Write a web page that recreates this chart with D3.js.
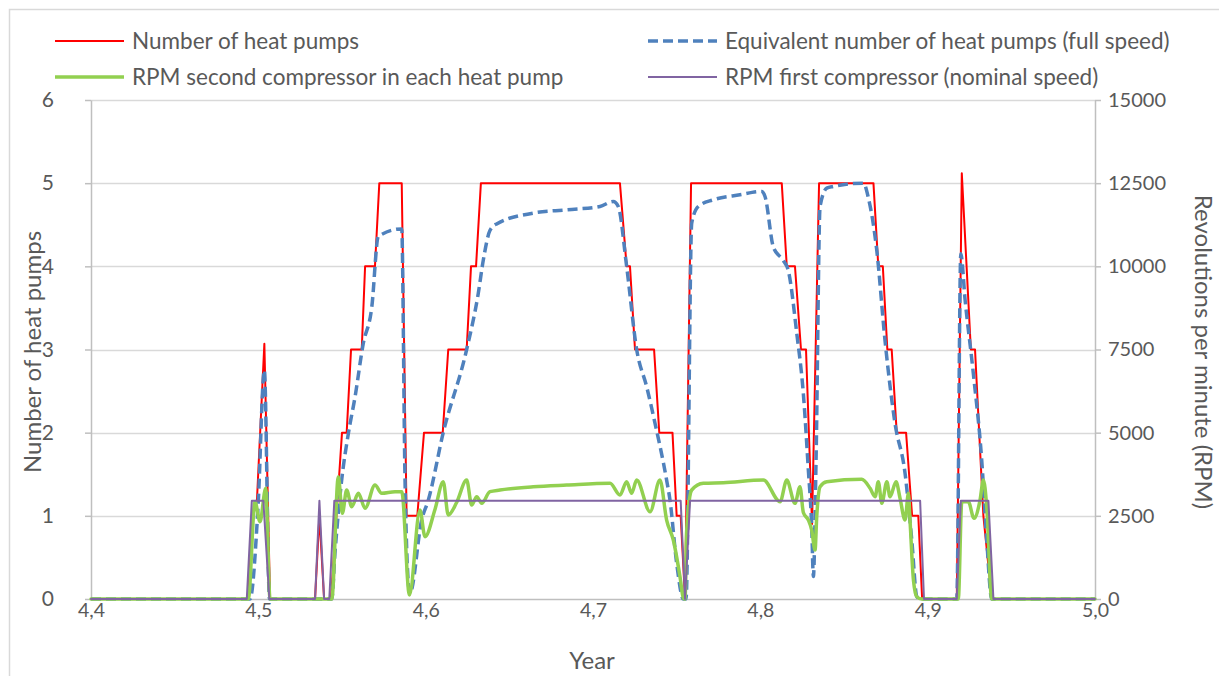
<!DOCTYPE html>
<html>
<head>
<meta charset="utf-8">
<script src="https://cdn.jsdelivr.net/npm/d3@7"></script>
<style>
  html, body { margin: 0; padding: 0; background: #ffffff; }
  svg { display: block; }
  text { font-family: Lato, "Open Sans", sans-serif; fill: #595959; }
</style>
</head>
<body>
<svg id="chart" width="1219" height="676"></svg>
<script>
// ---- Data -------------------------------------------------------------
// Number of heat pumps in operation (left axis)
const pumpsT = [4.4, 4.4938, 4.4968, 4.4992, 4.5036, 4.5070, 4.5339, 4.5365, 4.5393, 4.5434,
  4.5500, 4.5528, 4.5554, 4.5618, 4.5638, 4.5697, 4.5723, 4.5857, 4.5886, 4.5950, 4.5990,
  4.6102, 4.6135, 4.6245, 4.6271, 4.6301, 4.6330, 4.7161, 4.7201, 4.7221, 4.7251, 4.7365,
  4.7396, 4.7475, 4.7500, 4.7524, 4.7550, 4.7586, 4.8128, 4.8158, 4.8207, 4.8243, 4.8273,
  4.8309, 4.8351, 4.8676, 4.8705, 4.8732, 4.8759, 4.8785, 4.8815, 4.8871, 4.8907, 4.8944,
  4.8967, 4.9174, 4.9204, 4.9258, 4.9283, 4.9333, 4.9383, 5.0];
const pumpsN = [0, 0, 1, 1.2, 3.07, 0, 0, 1, 0, 0,
  2, 2, 3, 3, 4, 4, 5, 5, 1, 1, 2,
  2, 3, 3, 4, 4, 5, 5, 4, 4, 3, 3,
  2, 2, 1, 1, 0, 5, 5, 4, 4, 3, 3,
  0.9, 5, 5, 4, 4, 3, 3, 2, 2, 1, 1,
  0, 0, 5.12, 3, 3, 1, 0, 0];

// Equivalent number of heat pumps at full speed (left axis)
const equivT = [4.4, 4.4950, 4.4998, 4.5036, 4.5067, 4.5439, 4.5458, 4.5498, 4.5538, 4.5578,
  4.5626, 4.5678, 4.5717, 4.5857, 4.5876, 4.5896, 4.5906, 4.5976, 4.6016, 4.6105, 4.6245,
  4.6314, 4.6344, 4.6384, 4.6424, 4.6643, 4.6843, 4.7042, 4.7121, 4.7151, 4.7201, 4.7261,
  4.7321, 4.7371, 4.7440, 4.7460, 4.7500, 4.7540, 4.7556, 4.7590, 4.7629, 4.7719, 4.7878,
  4.8008, 4.8028, 4.8078, 4.8137, 4.8167, 4.8218, 4.8257, 4.8287, 4.8307, 4.8317, 4.8333,
  4.8357, 4.8397, 4.8436, 4.8616, 4.8646, 4.8696, 4.8745, 4.8805, 4.8865, 4.8905, 4.8935,
  4.8955, 4.9174, 4.9198, 4.9224, 4.9273, 4.9323, 4.9353, 4.9383, 5.0];
const equivN = [0, 0, 1.1, 2.75, 0, 0, 0.55, 1.43, 1.99, 2.43,
  3.06, 3.51, 4.36, 4.45, 1.5, 0.2, 0.07, 0.95, 1.19, 2.0, 3.0,
  3.67, 4.07, 4.43, 4.51, 4.64, 4.68, 4.72, 4.78, 4.72, 4.0, 3.0,
  2.55, 2.11, 1.43, 1.19, 0.43, 0, 0, 4.52, 4.72, 4.80, 4.86,
  4.90, 4.84, 4.23, 4.07, 3.95, 3.19, 2.47, 1.55, 0.87, 0.27, 1.67,
  4.72, 4.94, 4.96, 5.0, 4.82, 4.19, 3.11, 2.11, 1.51, 0.71, 0.03,
  0, 0, 4.15, 3.59, 2.71, 1.67, 0.71, 0, 0];

// RPM of the second compressor in each heat pump (right axis)
const rpm2T = [4.4, 4.4940, 4.4980, 4.5010, 4.5044, 4.5070, 4.5439, 4.5478, 4.5502, 4.5528,
  4.5558, 4.5598, 4.5638, 4.5697, 4.5737, 4.5817, 4.5857, 4.5903, 4.5966, 4.5996, 4.6056,
  4.6105, 4.6135, 4.6185, 4.6245, 4.6275, 4.6305, 4.6335, 4.6384, 4.6444, 4.6643, 4.6843,
  4.7102, 4.7161, 4.7201, 4.7231, 4.7261, 4.7341, 4.7400, 4.7440, 4.7480, 4.7520, 4.7540,
  4.7550, 4.7560, 4.7590, 4.7659, 4.7779, 4.8018, 4.8118, 4.8158, 4.8207, 4.8237, 4.8257,
  4.8287, 4.8307, 4.8327, 4.8337, 4.8357, 4.8397, 4.8606, 4.8656, 4.8686, 4.8705, 4.8726,
  4.8756, 4.8775, 4.8811, 4.8835, 4.8865, 4.8885, 4.8895, 4.8915, 4.8935, 4.8965, 4.9183,
  4.9204, 4.9243, 4.9277, 4.9313, 4.9333, 4.9353, 4.9383, 5.0];
const rpm2V = [0, 0, 2924, 2323, 3326, 0, 0, 3676, 2575, 3276,
  2775, 3176, 2725, 3426, 3176, 3225, 3225, 120, 2675, 1872, 2700,
  3525, 2524, 2900, 3576, 2825, 3074, 2876, 3225, 3276, 3375, 3426,
  3477, 3125, 3525, 3176, 3576, 2623, 3576, 2374, 1773, 670, 30,
  0, 2073, 3276, 3477, 3496, 3576, 2924, 3576, 2876, 3375, 2600,
  2374, 2073, 1472, 2474, 3375, 3525, 3597, 3326, 3074, 3525, 2876,
  3525, 3074, 3525, 3025, 2374, 3176, 2323, 571, 69, 0, 0,
  2924, 2924, 2425, 2975, 3576, 2775, 0, 0];

// RPM of the first compressor, which runs at nominal speed (right axis)
const rpm1T = [4.4, 4.4931, 4.4961, 4.5030, 4.5066, 4.5339, 4.5365, 4.5393, 4.5424, 4.5454,
  4.7524, 4.7550, 4.7580, 4.8955, 4.8978, 4.9174, 4.9198, 4.9363, 4.9393, 5.0];
const rpm1V = [0, 0, 2950, 2950, 0, 0, 2950, 0, 0, 2950,
  2950, 0, 2950, 2950, 0, 0, 2950, 2950, 0, 0];

const xTicks = [4.4, 4.5, 4.6, 4.7, 4.8, 4.9, 5.0];
const leftTicks = [0, 1, 2, 3, 4, 5, 6];
const rightTicks = [0, 2500, 5000, 7500, 10000, 12500, 15000];

const seriesNames = [
  "Number of heat pumps",
  "Equivalent number of heat pumps (full speed)",
  "RPM second compressor in each heat pump",
  "RPM first compressor (nominal speed)"
];

// ---- Layout -----------------------------------------------------------
const svg = d3.select("#chart");
const plot = { left: 91, right: 1095, top: 100, bottom: 599 };

const x = d3.scaleLinear().domain([4.4, 5.0]).range([plot.left, plot.right]);
const yL = d3.scaleLinear().domain([0, 6]).range([plot.bottom, plot.top]);
const yR = d3.scaleLinear().domain([0, 15000]).range([plot.bottom, plot.top]);

const commaFmt = d => d3.format(".1f")(d).replace(".", ",");

// outer chart frame
svg.append("rect")
  .attr("x", 9.5).attr("y", 9.5)
  .attr("width", 1230).attr("height", 690)
  .attr("fill", "none").attr("stroke", "#d9d9d9").attr("stroke-width", 1.5);

// horizontal gridlines
svg.append("g")
  .selectAll("line")
  .data(leftTicks.filter(d => d > 0))
  .join("line")
  .attr("x1", plot.left).attr("x2", plot.right)
  .attr("y1", d => Math.round(yL(d)) + 0.5).attr("y2", d => Math.round(yL(d)) + 0.5)
  .attr("stroke", "#d9d9d9").attr("stroke-width", 1.5);

// axes
const axisStyle = size => g => {
  g.select(".domain").attr("stroke", "#bfbfbf").attr("stroke-width", 1.5);
  g.selectAll(".tick line").attr("stroke", "#bfbfbf").attr("stroke-width", 1.5);
  g.selectAll(".tick text").attr("fill", "#595959").style("font-size", size)
    .style("font-family", "Lato, 'Open Sans', sans-serif");
};

svg.append("g")
  .attr("transform", `translate(0,${plot.bottom})`)
  .call(d3.axisBottom(x).tickValues(xTicks).tickFormat(commaFmt).tickSize(0).tickPadding(4))
  .call(axisStyle("19.5px"));

svg.append("g")
  .attr("transform", `translate(${plot.left},0)`)
  .call(d3.axisLeft(yL).tickValues(leftTicks).tickFormat(d3.format("d")).tickSizeOuter(0).tickSizeInner(6).tickPadding(31))
  .call(axisStyle("21px"));

svg.append("g")
  .attr("transform", `translate(${plot.right},0)`)
  .call(d3.axisRight(yR).tickValues(rightTicks).tickFormat(d3.format("d")).tickSizeOuter(0).tickSizeInner(6).tickPadding(7))
  .call(axisStyle("20px"));

// axis titles
svg.append("text")
  .attr("x", 592).attr("y", 669)
  .attr("text-anchor", "middle").style("font-size", "24px")
  .text("Year");

svg.append("text")
  .attr("transform", `translate(41,352) rotate(-90)`)
  .attr("text-anchor", "middle").style("font-size", "24px")
  .text("Number of heat pumps");

svg.append("text")
  .attr("transform", `translate(1195,352) rotate(90)`)
  .attr("text-anchor", "middle").style("font-size", "24px")
  .text("Revolutions per minute (RPM)");

// ---- Series -----------------------------------------------------------
const zip = (a, b) => a.map((t, i) => [t, b[i]]);

const lineL = d3.line().x(d => x(d[0])).y(d => yL(d[1]));
const lineLsmooth = d3.line().x(d => x(d[0])).y(d => yL(d[1])).curve(d3.curveMonotoneX);
const lineRsmooth = d3.line().x(d => x(d[0])).y(d => yR(d[1])).curve(d3.curveMonotoneX);
const lineR = d3.line().x(d => x(d[0])).y(d => yR(d[1]));

const series = [
  { name: seriesNames[0], path: lineL(zip(pumpsT, pumpsN)), color: "#ff0000", width: 2, dash: null },
  { name: seriesNames[1], path: lineLsmooth(zip(equivT, equivN)), color: "#4f81bd", width: 3.5, dash: "10,5" },
  { name: seriesNames[2], path: lineRsmooth(zip(rpm2T, rpm2V)), color: "#92d050", width: 3.5, dash: null },
  { name: seriesNames[3], path: lineR(zip(rpm1T, rpm1V)), color: "#8064a2", width: 2, dash: null }
];

svg.append("g")
  .selectAll("path")
  .data(series)
  .join("path")
  .attr("d", d => d.path)
  .attr("fill", "none")
  .attr("stroke", d => d.color)
  .attr("stroke-width", d => d.width)
  .attr("stroke-dasharray", d => d.dash)
  .attr("stroke-linejoin", "round")
  .attr("stroke-linecap", d => d.dash ? "butt" : "round");

// ---- Legend -----------------------------------------------------------
const legendPos = [
  { x: 55, y: 41 },
  { x: 648, y: 41 },
  { x: 55, y: 77 },
  { x: 648, y: 77 }
];

const legend = svg.append("g")
  .selectAll("g")
  .data(series)
  .join("g")
  .attr("transform", (d, i) => `translate(${legendPos[i].x},${legendPos[i].y})`);

legend.append("line")
  .attr("x1", 0).attr("x2", 69)
  .attr("stroke", d => d.color)
  .attr("stroke-width", d => d.width)
  .attr("stroke-dasharray", d => d.dash);

legend.append("text")
  .attr("x", 77).attr("y", 0).attr("dy", "0.35em")
  .style("font-size", "22.5px")
  .text(d => d.name);
</script>
</body>
</html>
